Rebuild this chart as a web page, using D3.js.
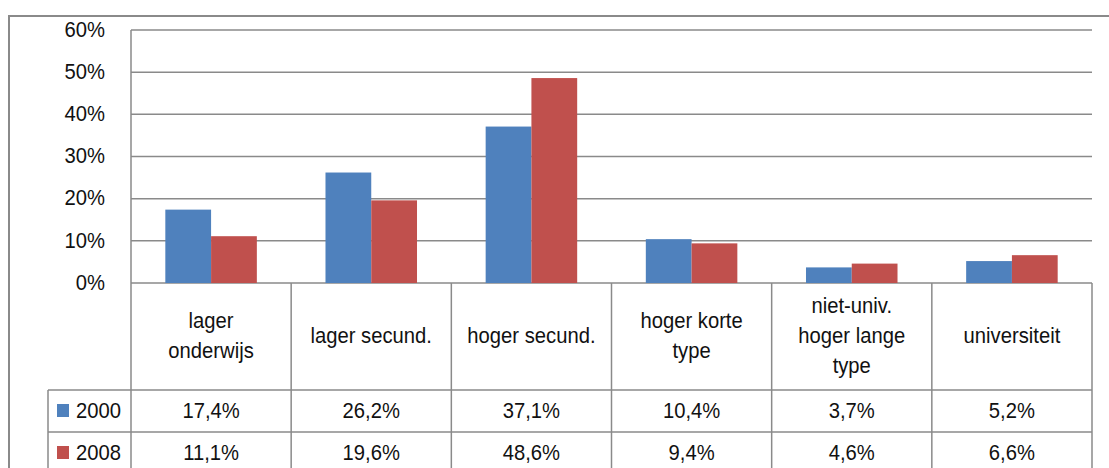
<!DOCTYPE html>
<head>
  <meta charset="utf-8">
  <script src="https://cdnjs.cloudflare.com/ajax/libs/d3/7.8.5/d3.min.js"></script>
  <style>
    body { margin: 0; background: #fff; }
    text { font-family: "Liberation Sans Narrow", "Arial Narrow", "Liberation Sans", sans-serif; fill: #111; }
  </style>
</head>
<body>
  <div id="chart"></div>
  <script>
    const categories = [
      ['lager', 'onderwijs'],
      ['lager secund.'],
      ['hoger secund.'],
      ['hoger korte', 'type'],
      ['niet-univ.', 'hoger lange', 'type'],
      ['universiteit']
    ];
    const years = ['2000', '2008'];
    const values2000 = [17.4, 26.2, 37.1, 10.4, 3.7, 5.2];
    const values2008 = [11.1, 19.6, 48.6, 9.4, 4.6, 6.6];
    const yTicks = [0, 10, 20, 30, 40, 50, 60];
    const colors = ['#4F81BD', '#C0504D'];

    const series = [values2000, values2008];
    const fmt = v => d3.format('.1f')(v).replace('.', ',') + '%';

    const width = 1109, height = 468;
    const plotLeft = 131, plotRight = 1092, plotTop = 30, base = 283;
    const headerBottom = 390, rowH = 42, legendLeft = 48;
    const grid = '#8a8a8a';
    const FS = 22, SQUEEZE = 0.92;

    const svg = d3.select('#chart').append('svg')
      .attr('width', width)
      .attr('height', height);

    // text looks condensed in the original (Arial Narrow): squeeze around anchor x
    const label = (parent, xx, yy, str, anchor) =>
      parent.append('g')
        .attr('transform', `translate(${xx},${yy}) scale(${SQUEEZE},1)`)
        .append('text')
        .attr('dy', '0.35em')
        .attr('text-anchor', anchor || 'middle')
        .attr('font-size', FS)
        .text(str);

    // outer chart frame
    svg.append('path')
      .attr('d', `M9,${height} V16 H${width}`)
      .attr('fill', 'none').attr('stroke', grid).attr('stroke-width', 2);

    const x = d3.scaleBand()
      .domain(d3.range(categories.length))
      .range([plotLeft, plotRight]);
    const xi = d3.scaleBand()
      .domain(d3.range(series.length))
      .range([0, x.bandwidth()])
      .paddingOuter(0.75)
      .paddingInner(0);
    const y = d3.scaleLinear().domain([0, 60]).range([base, plotTop]);

    // gridlines + y labels
    svg.append('g').selectAll('line').data(yTicks).join('line')
      .attr('x1', plotLeft).attr('x2', plotRight)
      .attr('y1', d => y(d)).attr('y2', d => y(d))
      .attr('stroke', grid).attr('stroke-width', 1.5);
    svg.append('line')
      .attr('x1', plotLeft).attr('x2', plotLeft).attr('y1', plotTop).attr('y2', base)
      .attr('stroke', grid).attr('stroke-width', 1.5);
    const yl = svg.append('g');
    yTicks.forEach(t => label(yl, 105, y(t) - 1, t + '%', 'end'));

    // bars
    series.forEach((vals, s) => {
      svg.append('g').selectAll('rect').data(vals).join('rect')
        .attr('x', (d, i) => x(i) + xi(s))
        .attr('y', d => y(d))
        .attr('width', xi.bandwidth())
        .attr('height', d => base - y(d))
        .attr('fill', colors[s]);
    });

    // data table
    const tableBottom = headerBottom + rowH * 2 + 4;
    const tg = svg.append('g').attr('stroke', grid).attr('stroke-width', 1.5);
    x.domain().concat([categories.length]).forEach(i => {
      const xx = i < categories.length ? x(i) : plotRight;
      tg.append('line').attr('x1', xx).attr('x2', xx)
        .attr('y1', base).attr('y2', tableBottom);
    });
    tg.append('line').attr('x1', legendLeft).attr('x2', legendLeft)
      .attr('y1', headerBottom).attr('y2', tableBottom);
    [headerBottom, headerBottom + rowH].forEach(yy => {
      tg.append('line').attr('x1', legendLeft).attr('x2', plotRight)
        .attr('y1', yy).attr('y2', yy);
    });

    // header labels
    const lineH = 30;
    const headY = (base + headerBottom) / 2 - 1;
    const hg = svg.append('g');
    categories.forEach((lines, i) => {
      lines.forEach((ln, k) => {
        label(hg, x(i) + x.bandwidth() / 2,
          headY + (k - (lines.length - 1) / 2) * lineH, ln);
      });
    });

    // value rows
    series.forEach((vals, s) => {
      const cy = headerBottom + rowH * s + rowH / 2 - 1;
      svg.append('rect')
        .attr('x', 57).attr('y', cy - 6).attr('width', 12).attr('height', 13)
        .attr('fill', colors[s]);
      label(svg, 76, cy, years[s], 'start');
      const vg = svg.append('g');
      vals.forEach((v, i) => label(vg, x(i) + x.bandwidth() / 2, cy, fmt(v)));
    });
  </script>
</body>
